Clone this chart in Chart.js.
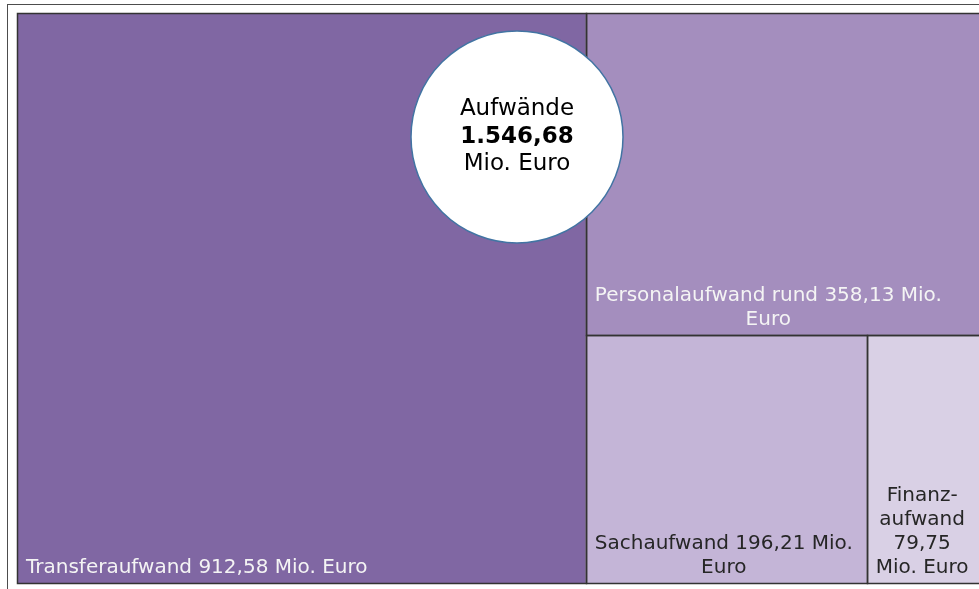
<!DOCTYPE html>
<html>
<head>
  <meta charset="UTF-8">
  <title>Aufwände</title>
  <script src="https://cdn.jsdelivr.net/npm/chart.js"></script>
  <style>
    html, body { margin: 0; padding: 0; background: #fff; overflow: hidden; }
    #rahmen { position: absolute; left: 7px; top: 4px; width: 1000px; height: 700px; border: 1px solid #4d4d4d; }
    #box { position: absolute; left: 0; top: 0; width: 990px; height: 589px; }
  </style>
</head>
<body>
  <div id="rahmen"></div>
  <div id="box"><canvas id="chart" width="990" height="589"></canvas></div>

  <script>
    const kategorien = ['Transferaufwand', 'Personalaufwand', 'Sachaufwand', 'Finanzaufwand'];
    const werte = [912.58, 358.13, 196.21, 79.75];
    const beschriftung = [
      ['Transferaufwand 912,58 Mio. Euro'],
      ['Personalaufwand rund 358,13 Mio.', 'Euro'],
      ['Sachaufwand 196,21 Mio.', 'Euro'],
      ['Finanz-', 'aufwand', '79,75', 'Mio. Euro']
    ];
    const summeText = ['Aufwände', '1.546,68', 'Mio. Euro'];

    const farben = ['#8067a3', '#a48ebe', '#c4b5d7', '#d9d0e5'];
    const textFarben = ['#f4f4f4', '#f4f4f4', '#262626', '#262626'];

    // abwechselnd senkrecht / waagerecht teilen (slice and dice)
    function aufteilen(vals) {
      let x0 = 0, y0 = 0, x1 = 1, y1 = 1;
      let rest = vals.reduce((a, b) => a + b, 0);
      const rects = [];
      vals.forEach((v, i) => {
        const anteil = v / rest;
        if (i % 2 === 0) {
          const w = (x1 - x0) * anteil;
          rects.push({ x0: x0, y0: y0, x1: x0 + w, y1: y1 });
          x0 += w;
        } else {
          const h = (y1 - y0) * anteil;
          rects.push({ x0: x0, y0: y0, x1: x1, y1: y0 + h });
          y0 += h;
        }
        rest -= v;
      });
      return rects;
    }

    const treemapPlugin = {
      id: 'treemap',
      afterDatasetsDraw(chart) {
        const ctx = chart.ctx;
        const sx = chart.scales.x, sy = chart.scales.y;
        const vals = chart.data.datasets[0].data;
        const rects = aufteilen(vals).map(r => ({
          l: sx.getPixelForValue(r.x0), r: sx.getPixelForValue(r.x1),
          t: sy.getPixelForValue(r.y0), b: sy.getPixelForValue(r.y1)
        }));

        ctx.save();
        rects.forEach((p, i) => {
          ctx.fillStyle = farben[i];
          ctx.fillRect(p.l, p.t, p.r - p.l, p.b - p.t);
        });
        ctx.strokeStyle = '#333333';
        ctx.lineWidth = 1.5;
        rects.forEach(p => {
          ctx.strokeRect(Math.round(p.l) + 0.5, Math.round(p.t) + 0.5,
            Math.round(p.r - p.l), Math.round(p.b - p.t));
        });

        // Beschriftungen unten links
        ctx.font = '20px "DejaVu Sans", Verdana, sans-serif';
        ctx.textBaseline = 'middle';
        ctx.textAlign = 'center';
        rects.forEach((p, i) => {
          const zeilen = beschriftung[i];
          const bw = Math.max(...zeilen.map(z => ctx.measureText(z).width));
          const cx = p.l + 9 + bw / 2;
          ctx.fillStyle = textFarben[i];
          zeilen.forEach((z, k) => {
            const y = p.b - 15 - (zeilen.length - 1 - k) * 24;
            ctx.fillText(z, cx, y);
          });
        });

        // Kreis mit Summe
        const cx = 517, cy = 137, rad = 106;
        ctx.beginPath();
        ctx.arc(cx, cy, rad, 0, Math.PI * 2);
        ctx.fillStyle = '#ffffff';
        ctx.fill();
        ctx.strokeStyle = '#4274a3';
        ctx.lineWidth = 1.5;
        ctx.stroke();
        ctx.fillStyle = '#000000';
        summeText.forEach((z, k) => {
          ctx.font = (k === 1 ? 'bold ' : '') + '23px "DejaVu Sans", Verdana, sans-serif';
          ctx.fillText(z, cx, cy + (k - 1) * 27.5);
        });
        ctx.restore();
      }
    };

    const chart = new Chart(document.getElementById('chart'), {
      type: 'scatter',
      data: {
        labels: kategorien,
        datasets: [{ label: 'Aufwände', data: werte, showLine: false, pointRadius: 0 }]
      },
      options: {
        responsive: false,
        animation: false,
        layout: { padding: { left: 17, top: 13, right: 9, bottom: 6 } },
        plugins: { legend: { display: false }, tooltip: { enabled: false } },
        scales: {
          x: { type: 'linear', min: 0, max: 1, display: false },
          y: { type: 'linear', min: 0, max: 1, reverse: true, display: false }
        }
      },
      plugins: [treemapPlugin]
    });
  </script>
</body>
</html>
